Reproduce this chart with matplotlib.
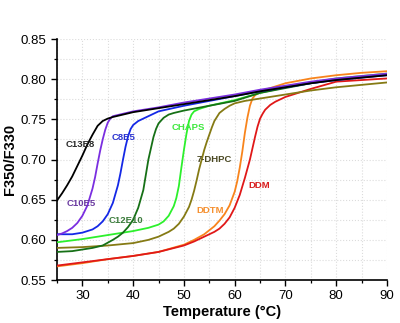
import numpy as np
import matplotlib
matplotlib.use("Agg")
from matplotlib import pyplot as plt
from matplotlib.ticker import MultipleLocator

plt.rcParams['font.family'] = ['Liberation Sans', 'DejaVu Sans']

# melting curves (temperature in degC, F350/F330 ratio)
x_c13e8 = [25, 26, 27, 28, 29, 30, 31, 32, 33, 34, 35, 36, 38, 40, 45, 50, 55, 60, 65, 70, 75, 80, 85, 90]
y_c13e8 = [0.649, 0.658, 0.668, 0.679, 0.692, 0.705, 0.719, 0.731, 0.742, 0.748, 0.751, 0.753, 0.756,
           0.759, 0.764, 0.769, 0.774, 0.779, 0.785, 0.790, 0.795, 0.799, 0.802, 0.805]

x_c10e5 = [25, 26, 27, 28, 29, 30, 31, 32, 32.5, 33, 33.5, 34, 34.5, 35, 35.5, 36, 38, 40, 45, 50, 55,
           60, 65, 70, 75, 80, 85, 90]
y_c10e5 = [0.606, 0.608, 0.611, 0.615, 0.621, 0.630, 0.643, 0.664, 0.678, 0.695, 0.711, 0.725, 0.737,
           0.746, 0.751, 0.754, 0.757, 0.760, 0.765, 0.771, 0.776, 0.781, 0.787, 0.792, 0.797, 0.801,
           0.804, 0.807]

x_c8e5 = [25, 28, 30, 31, 32, 33, 34, 35, 36, 37, 37.5, 38, 38.5, 39, 39.5, 40, 41, 42, 43, 45, 50, 55,
          60, 65, 70, 75, 80, 85, 90]
y_c8e5 = [0.607, 0.607, 0.609, 0.611, 0.613, 0.617, 0.623, 0.632, 0.646, 0.668, 0.683, 0.700, 0.716,
          0.729, 0.738, 0.743, 0.748, 0.751, 0.754, 0.760, 0.767, 0.773, 0.779, 0.785, 0.790, 0.795,
          0.799, 0.802, 0.805]

x_c12e10 = [25, 28, 30, 32, 34, 36, 37, 38, 39, 40, 41, 42, 43, 44, 44.5, 45, 46, 47, 48, 50, 55, 60,
            65, 70, 75, 80, 85, 90]
y_c12e10 = [0.585, 0.586, 0.588, 0.590, 0.593, 0.600, 0.604, 0.609, 0.616, 0.625, 0.640, 0.662, 0.700,
            0.728, 0.738, 0.745, 0.752, 0.756, 0.758, 0.761, 0.767, 0.773, 0.783, 0.789, 0.795, 0.800,
            0.803, 0.806]

x_chaps = [25, 30, 35, 40, 43, 45, 46, 47, 48, 48.5, 49, 49.5, 50, 50.5, 51, 51.5, 52, 53, 55, 60, 65,
           70, 75, 80, 85, 90]
y_chaps = [0.597, 0.601, 0.606, 0.611, 0.615, 0.619, 0.623, 0.630, 0.642, 0.652, 0.667, 0.690, 0.712,
           0.732, 0.748, 0.756, 0.760, 0.763, 0.767, 0.774, 0.783, 0.790, 0.796, 0.801, 0.804, 0.807]

x_dhpc = [25, 30, 35, 40, 43, 45, 47, 48, 49, 50, 51, 51.5, 52, 52.5, 53, 53.5, 54, 54.5, 55, 55.5, 56,
          57, 58, 59, 60, 62, 65, 70, 75, 80, 85, 90]
y_dhpc = [0.590, 0.591, 0.593, 0.596, 0.600, 0.604, 0.610, 0.614, 0.620, 0.629, 0.641, 0.650, 0.661,
          0.674, 0.688, 0.700, 0.712, 0.722, 0.731, 0.740, 0.748, 0.758, 0.763, 0.767, 0.770, 0.773,
          0.776, 0.781, 0.786, 0.790, 0.793, 0.796]

x_ddtm = [25, 30, 35, 40, 45, 50, 52, 54, 55, 56, 57, 58, 59, 60, 60.5, 61, 61.5, 62, 62.5, 63, 63.5,
          64, 65, 66, 68, 70, 75, 80, 85, 90]
y_ddtm = [0.567, 0.571, 0.576, 0.580, 0.585, 0.594, 0.600, 0.607, 0.612, 0.617, 0.624, 0.632, 0.643,
          0.660, 0.673, 0.690, 0.710, 0.733, 0.752, 0.767, 0.776, 0.780, 0.784, 0.787, 0.791, 0.795,
          0.801, 0.805, 0.808, 0.810]

x_ddm = [25, 30, 35, 40, 45, 50, 52, 54, 55, 56, 57, 58, 59, 60, 61, 62, 63, 63.5, 64, 64.5, 65, 65.5,
         66, 67, 68, 70, 75, 80, 85, 90]
y_ddm = [0.568, 0.572, 0.576, 0.580, 0.585, 0.593, 0.598, 0.604, 0.607, 0.610, 0.614, 0.620, 0.628,
         0.640, 0.656, 0.677, 0.700, 0.714, 0.728, 0.741, 0.751, 0.757, 0.762, 0.768, 0.772, 0.778,
         0.788, 0.797, 0.799, 0.801]

names = ['C13E8', 'C10E5', 'C8E5', 'C12E10', 'CHAPS', '7-DHPC', 'DDTM', 'DDM']
# label spots (temperature, ratio)
label_x = [29.5, 29.7, 38.2, 38.6, 50.8, 56.0, 55.1, 64.8]
label_y = [0.719, 0.645, 0.7275, 0.624, 0.740, 0.700, 0.636, 0.6675]

curves = [(x_c13e8, y_c13e8), (x_c10e5, y_c10e5), (x_c8e5, y_c8e5), (x_c12e10, y_c12e10),
          (x_chaps, y_chaps), (x_dhpc, y_dhpc), (x_ddtm, y_ddtm), (x_ddm, y_ddm)]
line_colors = ['#000000', '#7a2ee0', '#1428e6', '#167016', '#2cf02c', '#857a14', '#f8841c', '#e01818']
text_colors = ['#2a2a2a', '#6a3aa0', '#2c34d0', '#3c7c3c', '#3ee83e', '#4a4822', '#f59030', '#d82020']

fig = plt.figure(figsize=(4.0, 3.23), dpi=100)
ax = fig.add_axes([0.1425, 0.133, 0.825, 0.746])

# draw the later ones first so that the black one sits on top like in the original
order = [6, 7, 5, 4, 3, 2, 1, 0]
for i in order:
    ax.plot(curves[i][0], curves[i][1], color=line_colors[i], lw=1.3, zorder=3)

for i in range(len(names)):
    ax.text(label_x[i], label_y[i], names[i], color=text_colors[i], fontsize=6.8,
            fontweight='bold', ha='center', va='center', zorder=4)

ax.set_xlim(25, 90)
ax.set_ylim(0.55, 0.85)
ax.xaxis.set_major_locator(MultipleLocator(10))
ax.xaxis.set_minor_locator(MultipleLocator(5))
ax.yaxis.set_major_locator(MultipleLocator(0.05))
ax.yaxis.set_minor_locator(MultipleLocator(0.025))
ax.grid(True, which='both', color='#dcdcdc', linestyle=':', lw=0.8, zorder=0)
ax.set_axisbelow(True)

for s in ['top', 'right']:
    ax.spines[s].set_visible(False)
for s in ['left', 'bottom']:
    ax.spines[s].set_linewidth(1.2)

ax.tick_params(which='major', direction='out', length=4, width=1.0, labelsize=9.5)
ax.tick_params(which='minor', direction='out', length=2.5, width=0.9)
ax.set_xticks([30, 40, 50, 60, 70, 80, 90])
ax.yaxis.set_major_formatter(matplotlib.ticker.FormatStrFormatter('%.2f'))

ax.set_xlabel('Temperature (°C)', fontsize=10.5, fontweight='bold', labelpad=2)
ax.set_ylabel('F350/F330', fontsize=10.5, fontweight='bold', labelpad=3)

fig.savefig('out.png', dpi=100)
